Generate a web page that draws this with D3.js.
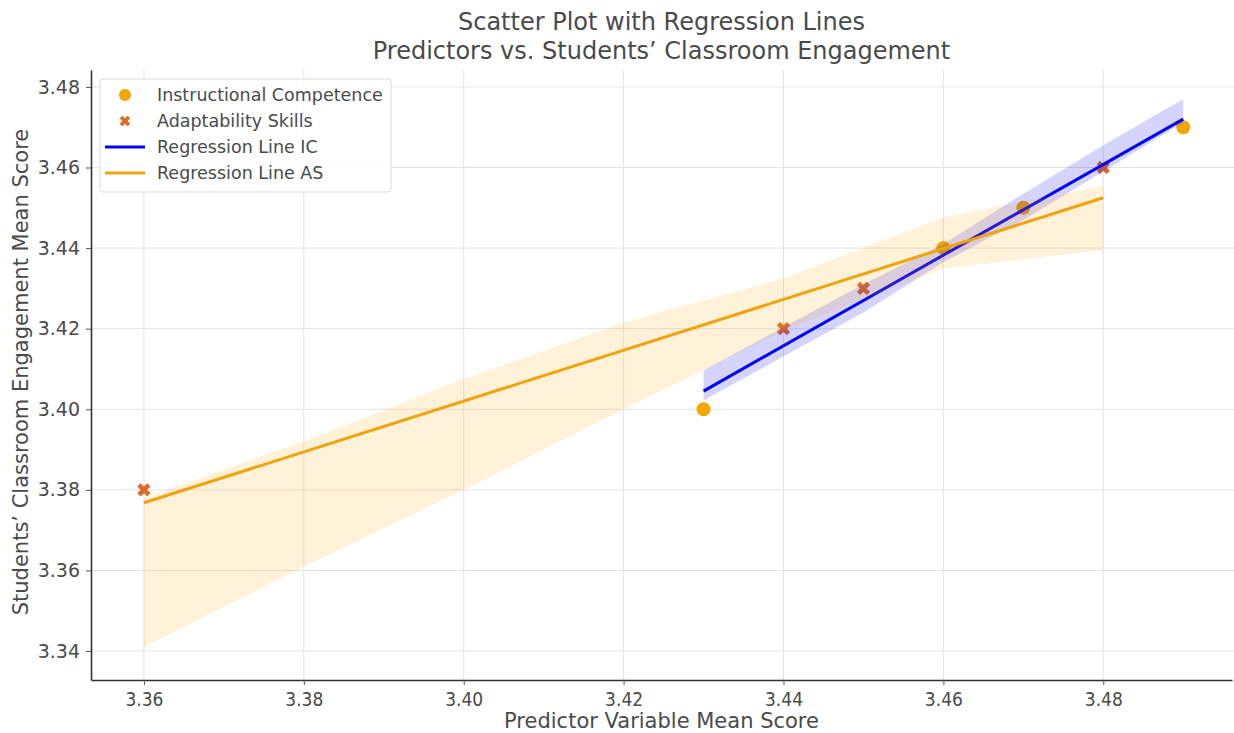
<!DOCTYPE html>
<html>
<head>
<meta charset="utf-8">
<script src="https://cdn.jsdelivr.net/npm/d3@7"></script>
<style>
  body { margin: 0; background: #fff; }
  svg { font-family: "DejaVu Sans", sans-serif; }
</style>
</head>
<body>
<svg width="1234" height="733"></svg>
<script>
// scatter data
const icX = [3.43, 3.46, 3.47, 3.49];
const icY = [3.40, 3.44, 3.45, 3.47];
const asX = [3.36, 3.44, 3.45, 3.48];
const asY = [3.38, 3.42, 3.43, 3.46];

// regression lines
const icLineX = [3.43, 3.49];
const icLineY = [3.4045, 3.472];
const asLineX = [3.36, 3.48];
const asLineY = [3.3768, 3.4525];

// confidence bands
const icBandX  = [3.43, 3.45, 3.46, 3.47, 3.48, 3.49];
const icBandLo = [3.4022, 3.4240, 3.4365, 3.4470, 3.4590, 3.4712];
const icBandHi = [3.4097, 3.4310, 3.4410, 3.4535, 3.4655, 3.4770];
const asBandX  = [3.36, 3.38, 3.40, 3.42, 3.44, 3.46, 3.48];
const asBandLo = [3.341, 3.361, 3.380, 3.400, 3.4195, 3.435, 3.4395];
const asBandHi = [3.378, 3.392, 3.4075, 3.4215, 3.4325, 3.4475, 3.4555];

const xTicks = [3.36, 3.38, 3.40, 3.42, 3.44, 3.46, 3.48];
const yTicks = [3.34, 3.36, 3.38, 3.40, 3.42, 3.44, 3.46, 3.48];

const legendLabels = ["Instructional Competence", "Adaptability Skills", "Regression Line IC", "Regression Line AS"];

const cIC = "#f2a600", cAS = "#de6b2a", cLineIC = "#0000ff", cLineAS = "#f0a30a";
const textCol = "#4a4a4a";

var svg = d3.select("svg");
const margin = {top: 70, left: 91, right: 2, bottom: 53};
const W = 1234, H = 733;
const iw = W - margin.left - margin.right;
const ih = H - margin.top - margin.bottom;

const x = d3.scaleLinear().domain([3.35338, 3.4961]).range([0, iw]);
const y = d3.scaleLinear().domain([3.3328, 3.4842]).range([ih, 0]);

const g = svg.append('g').attr('transform', `translate(${margin.left},${margin.top})`);

// grid
g.append('g').selectAll('line').data(xTicks).enter().append('line')
  .attr('x1', d => x(d)).attr('x2', d => x(d)).attr('y1', 0).attr('y2', ih)
  .attr('stroke', '#e3e3e3').attr('stroke-width', 1);
g.append('g').selectAll('line').data(yTicks).enter().append('line')
  .attr('x1', 0).attr('x2', iw + 2).attr('y1', d => y(d)).attr('y2', d => y(d))
  .attr('stroke', '#e3e3e3').attr('stroke-width', 1);

// scatter
g.selectAll('circle.ic').data(icX).enter().append('circle')
  .attr('class', 'ic')
  .attr('cx', d => x(d)).attr('cy', (d, i) => y(icY[i])).attr('r', 7)
  .attr('fill', cIC);

const xSym = d3.symbol().type(d3.symbolCross).size(110);
g.selectAll('path.as').data(asX).enter().append('path')
  .attr('class', 'as')
  .attr('d', xSym)
  .attr('transform', (d, i) => `translate(${x(d)},${y(asY[i])}) rotate(45)`)
  .attr('fill', cAS);

// bands + lines
const area = (xs, lo, hi) => d3.area()
  .x((d, i) => x(xs[i])).y0((d, i) => y(lo[i])).y1((d, i) => y(hi[i]))(xs);
const line = (xs, ys) => d3.line().x((d, i) => x(xs[i])).y((d, i) => y(ys[i]))(xs);

g.append('path').attr('d', area(icBandX, icBandLo, icBandHi))
  .attr('fill', '#0000ff').attr('fill-opacity', 0.17);
g.append('path').attr('d', line(icLineX, icLineY))
  .attr('stroke', cLineIC).attr('stroke-width', 3).attr('fill', 'none');

g.append('path').attr('d', area(asBandX, asBandLo, asBandHi))
  .attr('fill', '#ffa500').attr('fill-opacity', 0.15);
g.append('path').attr('d', line(asLineX, asLineY))
  .attr('stroke', cLineAS).attr('stroke-width', 3).attr('fill', 'none');

// axes
const xAxis = g.append('g').attr('transform', `translate(0,${ih})`)
  .call(d3.axisBottom(x).tickValues(xTicks).tickFormat(d3.format('.2f'))
    .tickSizeInner(5).tickSizeOuter(0).tickPadding(6));
const yAxis = g.append('g')
  .call(d3.axisLeft(y).tickValues(yTicks).tickFormat(d3.format('.2f'))
    .tickSizeInner(5).tickSizeOuter(0).tickPadding(6));
[xAxis, yAxis].forEach(a => {
  a.select('.domain').attr('stroke', '#333').attr('stroke-width', 1.6);
  a.selectAll('.tick line').attr('stroke', '#555');
  a.selectAll('.tick text').attr('fill', textCol).style('font-size', '19px')
    .style('font-family', '"DejaVu Sans", sans-serif');
});
xAxis.selectAll('.tick text').attr('transform', 'scale(0.9,1.05)');

// axis labels
svg.append('text').attr('x', margin.left + iw / 2).attr('y', 728)
  .attr('text-anchor', 'middle').attr('fill', textCol).style('font-size', '21px')
  .text('Predictor Variable Mean Score');
svg.append('text').attr('transform', `translate(28,${margin.top + ih / 2 - 3}) rotate(-90)`)
  .attr('text-anchor', 'middle').attr('fill', textCol).style('font-size', '21px')
  .text('Students\u2019 Classroom Engagement Mean Score');

// title
svg.append('text').attr('x', margin.left + iw / 2).attr('y', 30)
  .attr('text-anchor', 'middle').attr('fill', textCol).style('font-size', '24px')
  .text('Scatter Plot with Regression Lines');
svg.append('text').attr('x', margin.left + iw / 2).attr('y', 59)
  .attr('text-anchor', 'middle').attr('fill', textCol).style('font-size', '24px')
  .text('Predictors vs. Students\u2019 Classroom Engagement');

// legend
const lg = svg.append('g').attr('transform', 'translate(100,79)');
lg.append('rect').attr('width', 291).attr('height', 113).attr('rx', 3)
  .attr('fill', '#fff').attr('fill-opacity', 0.85).attr('stroke', '#dcdcdc');
const rowY = i => 16 + i * 26;
lg.append('circle').attr('cx', 25).attr('cy', rowY(0)).attr('r', 6).attr('fill', cIC);
lg.append('path').attr('d', d3.symbol().type(d3.symbolCross).size(70))
  .attr('transform', `translate(25,${rowY(1)}) rotate(45)`).attr('fill', cAS);
lg.append('line').attr('x1', 5).attr('x2', 45).attr('y1', rowY(2)).attr('y2', rowY(2))
  .attr('stroke', cLineIC).attr('stroke-width', 3);
lg.append('line').attr('x1', 5).attr('x2', 45).attr('y1', rowY(3)).attr('y2', rowY(3))
  .attr('stroke', cLineAS).attr('stroke-width', 3);
lg.selectAll('text.lab').data(legendLabels).enter().append('text')
  .attr('class', 'lab')
  .attr('x', 57).attr('y', (d, i) => rowY(i) + 6)
  .attr('fill', textCol).style('font-size', '17.5px')
  .text(d => d);
</script>
</body>
</html>
